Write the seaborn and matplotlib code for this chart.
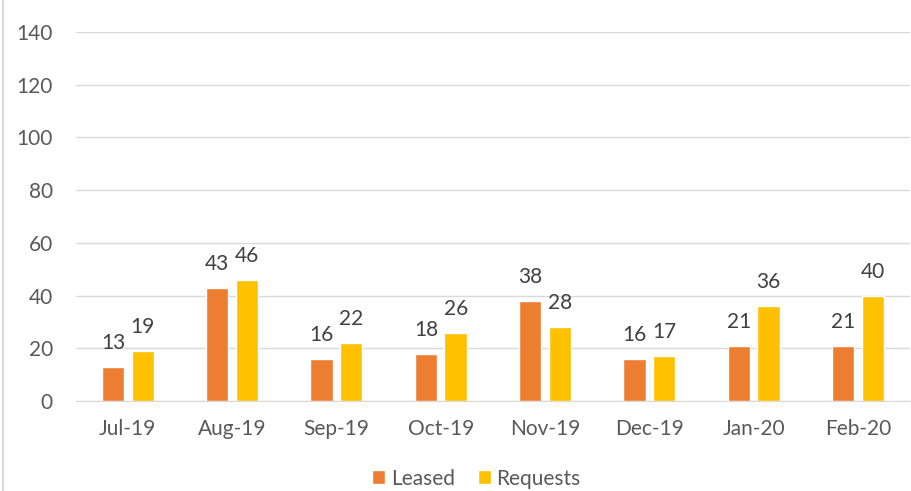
import pandas as pd
import numpy as np
from matplotlib import pyplot as plt
from matplotlib.lines import Line2D
import seaborn as sns

months = ['Jul-19', 'Aug-19', 'Sep-19', 'Oct-19', 'Nov-19', 'Dec-19', 'Jan-20', 'Feb-20']
leased = [13, 43, 16, 18, 38, 16, 21, 21]
requests = [19, 46, 22, 26, 28, 17, 36, 40]
y_ticks = [0, 20, 40, 60, 80, 100, 120, 140]

df = pd.DataFrame({
    'Month': months * 2,
    'Count': leased + requests,
    'Series': ['Leased'] * len(months) + ['Requests'] * len(months),
})

sns.set_style('white')
plt.rcParams['font.family'] = ['Lato', 'DejaVu Sans']

fig = plt.figure(figsize=(9.12, 4.91), dpi=100)
ax = fig.add_axes([0.083, 0.183, 0.915, 0.752])

sns.barplot(data=df, x='Month', y='Count', hue='Series', order=months,
            palette=['#ED7D31', '#FFC000'], width=0.57, gap=0.25,
            saturation=1, ax=ax, legend=True)

for cont in ax.containers:
    ax.bar_label(cont, padding=10, fontsize=15, color='#404040')

ax.set_ylim(0, 140)
ax.set_yticks(y_ticks)
ax.set_xlim(-0.5, len(months) - 0.5)
ax.yaxis.grid(True, color='#D9D9D9', linewidth=1)
ax.set_axisbelow(True)
for s in ['top', 'right', 'left']:
    ax.spines[s].set_visible(False)
ax.spines['bottom'].set_color('#D9D9D9')
ax.set_xlabel('')
ax.set_ylabel('')

ax.tick_params(axis='y', length=0, pad=16.5, labelsize=15, labelcolor='#595959')
ax.tick_params(axis='x', which='major', length=0, pad=13, labelsize=15, labelcolor='#595959')
ax.set_xticks(np.arange(-0.5, len(months)), minor=True)
ax.tick_params(axis='x', which='minor', length=6, color='#D9D9D9', width=1)

handles, labels = ax.get_legend_handles_labels()
ax.legend(handles, labels, loc='center', bbox_to_anchor=(0.48, -0.21), ncol=2,
          frameon=False, fontsize=15, labelcolor='#595959',
          handlelength=0.65, handleheight=0.65, handletextpad=0.25, columnspacing=1.1)

fig.add_artist(Line2D([0.003, 0.003], [0, 1], color='#D9D9D9', linewidth=1.5,
                      transform=fig.transFigure))

fig.savefig('out.png', dpi=100)
